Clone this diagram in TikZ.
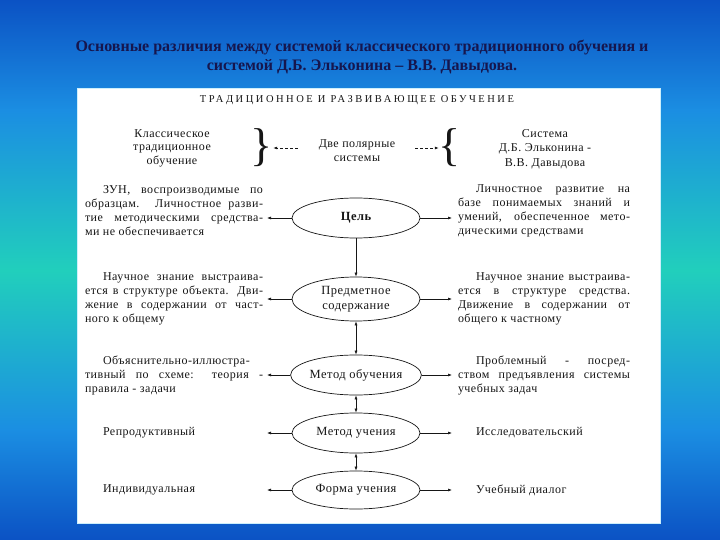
\documentclass[tikz,border=0pt]{standalone}
\usepackage{fontspec}
\setmainfont{Liberation Serif}
\newfontfamily\scanfamily[LetterSpace=4]{Liberation Serif}
\newfontfamily\headfamily[LetterSpace=24]{Liberation Serif}
\usetikzlibrary{positioning,shapes.geometric,arrows.meta}

\definecolor{deepblue}{HTML}{0B52C4}
\definecolor{skyblue}{HTML}{1B8EE2}
\definecolor{seateal}{HTML}{21CFBC}
\definecolor{titleink}{HTML}{16164E}
\definecolor{scanink}{HTML}{161616}

\newcommand\sidefont{\scanfamily\fontsize{12}{14}\selectfont}
\newcommand\stagefont{\scanfamily\fontsize{12.5}{15}\selectfont}
\newcommand\ind{\hspace*{18pt}}
\newcommand\fl[1]{\hbox to\hsize{#1}}

\begin{document}
\begin{tikzpicture}[x=1pt,y=-1pt,
    stage/.style={ellipse, draw=scanink, line width=0.7pt, minimum width=128pt,
      minimum height=40pt, inner sep=0pt, align=center, text=scanink, font=\stagefont},
    side/.style={inner sep=0pt, text=scanink, font=\sidefont, align=center},
    sidebox/.style={side, text width=#1, align=justify},
    pointer/.style={draw=scanink, line width=0.6pt, -{Latex[length=4pt,width=3pt]}},
    twoway/.style={pointer, {Latex[length=4pt,width=3pt]}-{Latex[length=4pt,width=3pt]}},
    bracket/.style={inner sep=0pt, text=scanink, font=\fontsize{46}{46}\selectfont}]
  \useasboundingbox (0,0) rectangle (720,540);
  % background and sheet
  \shade[top color=deepblue, bottom color=skyblue] (0,0) rectangle (720,111);
  \shade[top color=skyblue, bottom color=seateal] (0,110) rectangle (720,271);
  \shade[top color=seateal, bottom color=skyblue] (0,270) rectangle (720,431);
  \shade[top color=skyblue, bottom color=deepblue] (0,430) rectangle (720,540);
  \fill[white, draw=white!80!cyan, line width=1pt] (77,89) rectangle (660,523);

  \node[align=center, inner sep=0pt, text=titleink, font=\bfseries\fontsize{16}{19}\selectfont]
    (title) at (362,57) {Основные различия между системой классического традиционного обучения и\\
    системой Д.Б. Эльконина – В.В. Давыдова.};
  \node[inner sep=0pt, text=scanink, font=\headfamily\fontsize{10.5}{12}\selectfont]
    (heading) at (357,100) {ТРАДИЦИОННОЕ И РАЗВИВАЮЩЕЕ ОБУЧЕНИЕ};

  % two systems
  \node[side, font=\sidefont\fontsize{12}{13.5}\selectfont] (classic) at (172,148)
    {Классическое\\традиционное\\обучение};
  \node[bracket] (lbrace) at (262,148) {\}};
  \node[side] (poles) at (357,151) {Две полярные\\системы};
  \node[bracket] (rbrace) at (450,148) {\{};
  \node[side, font=\sidefont\fontsize{12}{14.5}\selectfont] (elkonin) at (545,149)
    {Система\\Д.Б. Эльконина -\\В.В. Давыдова};
  \draw[pointer, densely dashed, shorten <=21pt] (lbrace.east -| poles.west) -- (lbrace.east);
  \draw[pointer, densely dashed, shorten <=20pt] (rbrace.west -| poles.east) -- (rbrace.west);

  % stages
  \node[stage, font=\stagefont\bfseries] (goal) at (356,218) {Цель};
  \node[stage, minimum height=44pt] (content) at (356,299) {Предметное\\содержание};
  \node[stage] (tmethod) at (356,375) {Метод обучения};
  \node[stage] (lmethod) at (356,433) {Метод учения};
  \node[stage, minimum height=38pt] (form) at (356,490) {Форма учения};

  \draw[pointer] (goal.south) -- (content.north);
  \draw[twoway] (content.south) -- (tmethod.north);
  \draw[twoway] (tmethod.south) -- (lmethod.north);
  \draw[twoway] (lmethod.south) -- (form.north);

  % traditional side
  \node[sidebox=178pt] (tgoal) at (174,211) {\fl{\ind ЗУН, воспроизводимые по}
    \fl{образцам. Личностное разви-} \fl{тие методическими средства-} ми не обеспечивается};
  \node[sidebox=178pt] (tcontent) at (174,299) {\fl{\ind Научное знание выстраива-}
    \fl{ется в структуре объекта. Дви-} \fl{жение в содержании от част-} ного к общему};
  \node[sidebox=178pt] (tteach) at (174,375) {\fl{\ind Объяснительно-иллюстра-}
    \fl{тивный по схеме: теория -} правила - задачи};
  \node[sidebox=178pt] (tlearn) at (174,433) {\ind Репродуктивный};
  \node[sidebox=178pt] (tform) at (174,490) {\ind Индивидуальная};

  % developing side
  \node[sidebox=172pt] (dgoal) at (544,211) {\fl{\ind Личностное развитие на}
    \fl{базе понимаемых знаний и} \fl{умений, обеспеченное мето-} дическими средствами};
  \node[sidebox=172pt] (dcontent) at (544,299) {\fl{\ind Научное знание выстраива-}
    \fl{ется в структуре средства.} \fl{Движение в содержании от} общего к частному};
  \node[sidebox=172pt] (dteach) at (544,375) {\fl{\ind Проблемный - посред-}
    \fl{ством предъявления системы} учебных задач};
  \node[sidebox=172pt] (dlearn) at (544,433) {\ind Исследовательский};
  \node[sidebox=172pt] (dform) at (544,490) {\ind Учебный диалог};

  \coordinate (leftend) at (267,0);
  \coordinate (rightend) at (452,0);
  \foreach \s in {goal,content,tmethod,lmethod,form}{
    \draw[pointer] (\s.west) -- (\s.west -| leftend);
    \draw[pointer] (\s.east) -- (\s.east -| rightend);
  }
\end{tikzpicture}
\end{document}
